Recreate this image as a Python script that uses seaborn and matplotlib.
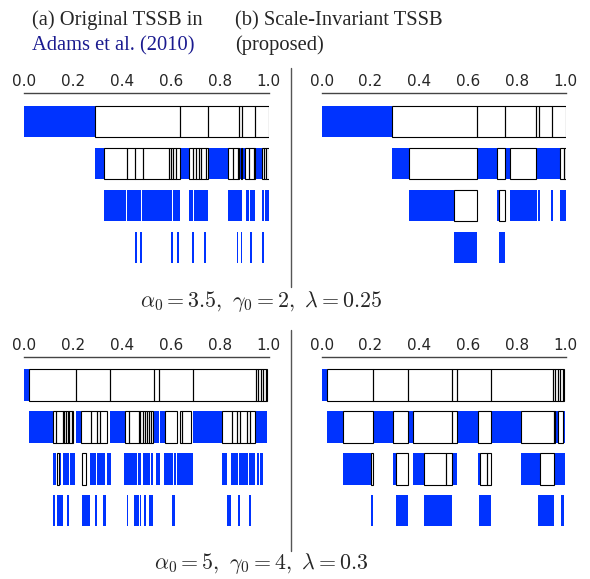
import matplotlib.pyplot as plt
import seaborn as sns
from matplotlib.lines import Line2D

sns.set_style('white')
plt.rcParams['mathtext.fontset'] = 'cm'
plt.rcParams['font.family'] = ['DejaVu Sans']

BLUE = '#0033ff'
NAVY = '#1a1a8f'

# (a) original TSSB, alpha0=3.5, gamma0=2, lambda=0.25
top_a_blue = [
    [(0.0, 0.290)],
    [(0.290, 0.327), (0.638, 0.676), (0.753, 0.835), (0.880, 0.886), (0.892, 0.904), (0.945, 0.973)],
    [(0.327, 0.418), (0.421, 0.478), (0.484, 0.604), (0.609, 0.624), (0.627, 0.638), (0.676, 0.692),
     (0.696, 0.753), (0.835, 0.853), (0.856, 0.890), (0.907, 0.921), (0.924, 0.945), (0.973, 0.982),
     (0.985, 1.0)],
    [(0.454, 0.460), (0.473, 0.484), (0.599, 0.610), (0.624, 0.635), (0.687, 0.693), (0.736, 0.742),
     (0.869, 0.876), (0.886, 0.892), (0.924, 0.930), (0.973, 0.981)],
]
top_a_boxes = [
    [(0.290, 0.638), (0.638, 0.753), (0.753, 0.880), (0.880, 0.892), (0.892, 0.945), (0.945, 1.0)],
    [(0.327, 0.420), (0.420, 0.455), (0.455, 0.485), (0.485, 0.591), (0.591, 0.601), (0.601, 0.610),
     (0.610, 0.621), (0.621, 0.638), (0.676, 0.692), (0.692, 0.703), (0.703, 0.714), (0.714, 0.725),
     (0.725, 0.742), (0.742, 0.753), (0.835, 0.853), (0.853, 0.873), (0.873, 0.880), (0.886, 0.892),
     (0.904, 0.921), (0.921, 0.940), (0.940, 0.945), (0.973, 0.981), (0.981, 0.989), (0.989, 1.0)],
    [],
    [],
]

# (b) scale-invariant TSSB, same parameters
top_b_blue = [
    [(0.0, 0.290)],
    [(0.290, 0.359), (0.635, 0.717), (0.750, 0.773), (0.880, 0.978)],
    [(0.359, 0.541), (0.717, 0.727), (0.773, 0.884), (0.887, 0.895), (0.940, 0.948), (0.978, 1.0)],
    [(0.541, 0.635), (0.725, 0.750)],
]
top_b_boxes = [
    [(0.290, 0.638), (0.638, 0.753), (0.753, 0.880), (0.880, 0.892), (0.892, 0.945), (0.945, 1.0)],
    [(0.359, 0.635), (0.717, 0.750), (0.773, 0.880), (0.978, 0.992), (0.992, 1.0)],
    [(0.541, 0.635), (0.727, 0.750)],
    [],
]

# (a) original TSSB, alpha0=5, gamma0=4, lambda=0.3
bot_a_blue = [
    [(0.0, 0.022)],
    [(0.022, 0.120), (0.211, 0.233), (0.353, 0.414), (0.533, 0.553), (0.555, 0.576), (0.692, 0.808),
     (0.948, 0.992)],
    [(0.120, 0.131), (0.145, 0.150), (0.158, 0.185), (0.188, 0.208), (0.270, 0.294), (0.297, 0.331),
     (0.338, 0.354), (0.409, 0.461), (0.467, 0.477), (0.485, 0.515), (0.517, 0.528), (0.540, 0.556),
     (0.572, 0.608), (0.612, 0.622), (0.624, 0.692), (0.808, 0.831), (0.845, 0.876), (0.879, 0.917),
     (0.919, 0.944), (0.951, 0.960), (0.966, 0.978)],
    [(0.120, 0.125), (0.136, 0.159), (0.177, 0.184), (0.236, 0.270), (0.289, 0.297), (0.324, 0.335),
     (0.420, 0.425), (0.450, 0.470), (0.473, 0.480), (0.490, 0.499), (0.511, 0.529), (0.604, 0.617),
     (0.828, 0.847), (0.875, 0.881), (0.920, 0.926)],
]
bot_a_boxes = [
    [(0.022, 0.211), (0.211, 0.353), (0.353, 0.533), (0.533, 0.553), (0.553, 0.692), (0.692, 0.948),
     (0.948, 0.957), (0.957, 0.970), (0.970, 0.978), (0.978, 0.988), (0.988, 0.992)],
    [(0.120, 0.131), (0.131, 0.158), (0.158, 0.165), (0.165, 0.172), (0.172, 0.179), (0.179, 0.185),
     (0.185, 0.195), (0.195, 0.201), (0.233, 0.273), (0.273, 0.300), (0.300, 0.311), (0.311, 0.340),
     (0.414, 0.428), (0.428, 0.469), (0.469, 0.474), (0.474, 0.485), (0.485, 0.493), (0.493, 0.501),
     (0.501, 0.512), (0.512, 0.520), (0.520, 0.528), (0.576, 0.624), (0.638, 0.644), (0.644, 0.681),
     (0.808, 0.849), (0.849, 0.869), (0.869, 0.883), (0.883, 0.910), (0.910, 0.924), (0.924, 0.944)],
    [(0.133, 0.144), (0.236, 0.252)],
    [],
]

# (b) scale-invariant TSSB, alpha0=5, gamma0=4, lambda=0.3
bot_b_blue = [
    [(0.0, 0.022)],
    [(0.022, 0.089), (0.211, 0.291), (0.353, 0.372), (0.553, 0.639), (0.692, 0.816), (0.957, 0.970),
     (0.988, 0.995)],
    [(0.089, 0.202), (0.291, 0.303), (0.372, 0.421), (0.534, 0.553), (0.639, 0.650), (0.816, 0.895),
     (0.951, 0.995)],
    [(0.202, 0.209), (0.303, 0.352), (0.421, 0.534), (0.645, 0.692), (0.888, 0.951), (0.980, 0.992)],
]
bot_b_boxes = [
    [(0.022, 0.211), (0.211, 0.353), (0.353, 0.533), (0.533, 0.553), (0.553, 0.692), (0.692, 0.948),
     (0.948, 0.957), (0.957, 0.970), (0.970, 0.978), (0.978, 0.988), (0.988, 0.992)],
    [(0.089, 0.211), (0.291, 0.353), (0.372, 0.534), (0.534, 0.553), (0.639, 0.692), (0.816, 0.951),
     (0.951, 0.957), (0.970, 0.988)],
    [(0.202, 0.209), (0.303, 0.352), (0.421, 0.508), (0.508, 0.534), (0.650, 0.676), (0.676, 0.692),
     (0.895, 0.951)],
    [],
]

ticks = [0.0, 0.2, 0.4, 0.6, 0.8, 1.0]
tick_labels = ['0.0', '0.2', '0.4', '0.6', '0.8', '1.0']
titles_a = ['(a) Original TSSB in', 'Adams et al. (2010)']
titles_b = ['(b) Scale-Invariant TSSB', '(proposed)']
params_top = r'$\alpha_0 = 3.5,\ \gamma_0 = 2,\ \lambda = 0.25$'
params_bot = r'$\alpha_0 = 5,\ \gamma_0 = 4,\ \lambda = 0.3$'


def draw_panel(ax, blue_rows, box_rows):
    for i, segs in enumerate(blue_rows):
        if segs:
            ax.barh([i] * len(segs), [e - s for s, e in segs], left=[s for s, e in segs],
                    height=0.75, color=BLUE, linewidth=0)
    for i, segs in enumerate(box_rows):
        if segs:
            ax.barh([i] * len(segs), [e - s for s, e in segs], left=[s for s, e in segs],
                    height=0.75, facecolor='none', edgecolor='black', linewidth=0.8)
    ax.set_xlim(0, 1)
    ax.set_ylim(3.39, -0.68)
    ax.xaxis.tick_top()
    ax.set_xticks(ticks)
    ax.set_xticklabels(tick_labels, fontsize=11)
    ax.tick_params(axis='x', length=0, pad=3)
    ax.set_yticks([])
    for side in ['bottom', 'left', 'right']:
        ax.spines[side].set_visible(False)
    ax.spines['top'].set_color('#444444')
    ax.spines['top'].set_linewidth(1.0)


fig = plt.figure(figsize=(5.9, 5.79), dpi=100)
ax1 = fig.add_axes([0.0407, 0.544, 0.4147, 0.2953])
ax2 = fig.add_axes([0.5453, 0.544, 0.4136, 0.2953])
ax3 = fig.add_axes([0.0407, 0.0898, 0.4147, 0.2941])
ax4 = fig.add_axes([0.5453, 0.0898, 0.4136, 0.2941])
draw_panel(ax1, top_a_blue, top_a_boxes)
draw_panel(ax2, top_b_blue, top_b_boxes)
draw_panel(ax3, bot_a_blue, bot_a_boxes)
draw_panel(ax4, bot_b_blue, bot_b_boxes)

serif = ['Liberation Serif', 'DejaVu Serif']
fig.text(32 / 590, 1 - 25 / 579, titles_a[0], fontsize=14.8, family=serif, va='baseline')
fig.text(32 / 590, 1 - 50 / 579, titles_a[1], fontsize=14.8, family=serif, va='baseline', color=NAVY)
fig.text(235 / 590, 1 - 25 / 579, titles_b[0], fontsize=14.8, family=serif, va='baseline')
fig.text(235 / 590, 1 - 50 / 579, titles_b[1], fontsize=14.8, family=serif, va='baseline')

fig.text(261 / 590, 1 - 301 / 579, params_top, fontsize=15.8, ha='center', va='center')
fig.text(261 / 590, 1 - 563 / 579, params_bot, fontsize=15.8, ha='center', va='center')

# vertical separators
fig.add_artist(Line2D([0.4927, 0.4927], [0.882, 0.504], transform=fig.transFigure,
                      color='#555555', linewidth=1))
fig.add_artist(Line2D([0.4927, 0.4927], [0.430, 0.048], transform=fig.transFigure,
                      color='#555555', linewidth=1))

fig.savefig('out.png', dpi=100)
